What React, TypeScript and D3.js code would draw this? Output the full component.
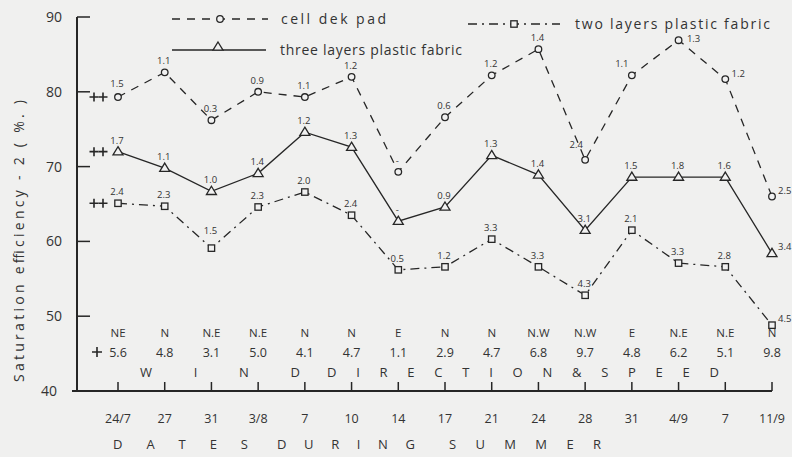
import React from "react";
import * as d3 from "d3";

const dates = ["24/7", "27", "31", "3/8", "7", "10", "14", "17", "21", "24", "28", "31", "4/9", "7", "11/9"];
const cellDek = [79.3, 82.6, 76.2, 80.0, 79.3, 82.0, 69.3, 76.6, 82.2, 85.7, 70.9, 82.2, 86.9, 81.7, 66.0];
const cellDekLabels = ["1.5", "1.1", "0.3", "0.9", "1.1", "1.2", "-", "0.6", "1.2", "1.4", "2.4", "1.1", "1.3", "1.2", "2.5"];
const threeLayers = [72.0, 69.8, 66.7, 69.1, 74.6, 72.6, 62.7, 64.6, 71.5, 68.9, 61.5, 68.6, 68.6, 68.6, 58.4];
const threeLayersLabels = ["1.7", "1.1", "1.0", "1.4", "1.2", "1.3", "-", "0.9", "1.3", "1.4", "3.1", "1.5", "1.8", "1.6", "3.4"];
const twoLayers = [65.1, 64.7, 59.1, 64.6, 66.6, 63.5, 56.2, 56.6, 60.3, 56.6, 52.8, 61.5, 57.1, 56.6, 48.8];
const twoLayersLabels = ["2.4", "2.3", "1.5", "2.3", "2.0", "2.4", "0.5", "1.2", "3.3", "3.3", "4.3", "2.1", "3.3", "2.8", "4.5"];
const windDir = ["NE", "N", "N.E", "N.E", "N", "N", "E", "N", "N", "N.W", "N.W", "E", "N.E", "N.E", "N"];
const windSpeed = ["5.6", "4.8", "3.1", "5.0", "4.1", "4.7", "1.1", "2.9", "4.7", "6.8", "9.7", "4.8", "6.2", "5.1", "9.8"];
const yTicks = [50, 60, 70, 80, 90];
const legendNames = ["cell dek pad", "three layers plastic fabric", "two layers plastic fabric"];
const windTitleWords = ["WIND", "DIRECTION&SPEED"];
const dateTitleWords = ["DATES", "DURING", "SUMMER"];

// label placement nudges (style only): [seriesIndex, pointIndex, dx, dy]
const nudges: [number, number, number, number][] = [
  [0, 0, 0, -2],
  [0, 10, -8, -4],
  [0, 11, -9, 0],
  [0, 12, 16, 10],
  [0, 13, 14, 6],
  [2, 2, 0, -6],
];
// word spans (style only): [x, textLength]
const windSpans: [number, number][] = [[140, 160], [327, 392]];
const dateSpans: [number, number][] = [[113, 135], [277, 138], [449, 152]];

const W = 792, H = 457;
const INK = "#262626";
const FONT = "'Open Sans', 'DejaVu Sans', sans-serif";

const x = d3.scalePoint<number>().domain(dates.map((_, i) => i)).range([118, 772]).padding(0);
const y = d3.scaleLinear().domain([40, 90]).range([391, 17]);

type Marker = "circle" | "triangle" | "square";

function MarkerShape({ kind, cx, cy }: { kind: Marker; cx: number; cy: number }) {
  const common = { fill: "#f1f1f1", stroke: INK, strokeWidth: 1.3 };
  if (kind === "circle") return <circle cx={cx} cy={cy} r={3.3} {...common} />;
  if (kind === "square") return <rect x={cx - 3.2} y={cy - 3.2} width={6.4} height={6.4} {...common} />;
  const s = 5;
  return <path d={`M${cx},${cy - s} L${cx + s},${cy + 3.2} L${cx - s},${cy + 3.2} Z`} {...common} />;
}

function Cross({ cx, cy, s = 5 }: { cx: number; cy: number; s?: number }) {
  return (
    <path d={`M${cx - s},${cy} H${cx + s} M${cx},${cy - s} V${cy + s}`} stroke={INK} strokeWidth={1.6} />
  );
}

const series = [
  { values: cellDek, labels: cellDekLabels, marker: "circle" as Marker, dash: "8,7" },
  { values: threeLayers, labels: threeLayersLabels, marker: "triangle" as Marker, dash: "" },
  { values: twoLayers, labels: twoLayersLabels, marker: "square" as Marker, dash: "9,5,2,5" },
];

export default function App() {
  const line = d3
    .line<number>()
    .x((_, i) => x(i) as number)
    .y((v) => y(v));

  const axisX0 = 77;
  const axisY = y(40);

  const nudge = (si: number, i: number) => {
    const n = nudges.find((d) => d[0] === si && d[1] === i);
    return n ? [n[2], n[3]] : [0, 0];
  };

  return (
    <div style={{ position: "fixed", left: 0, top: 0 }}>
      <svg width={W} height={H} style={{ display: "block", background: "#f0f0ef" }} fontFamily={FONT}>
        <rect width={W} height={H} fill="#f0f0ef" />
        {/* Y axis */}
        <line x1={axisX0} y1={y(90)} x2={axisX0} y2={axisY} stroke={INK} strokeWidth={2} />
        {yTicks.map((t) => (
          <g key={t}>
            <line x1={axisX0} x2={axisX0 + 13} y1={y(t)} y2={y(t)} stroke={INK} strokeWidth={1.5} />
            <text x={62} y={y(t) + 5} textAnchor="end" fontSize={14} fill="#333">
              {t}
            </text>
          </g>
        ))}
        <text x={57} y={y(40) + 5} textAnchor="end" fontSize={14} fill="#333">
          40
        </text>
        {/* X axis */}
        <line x1={axisX0 - 5} y1={axisY} x2={x(dates.length - 1)} y2={axisY} stroke={INK} strokeWidth={2} />
        {dates.map((d, i) => (
          <g key={i}>
            <line x1={x(i)} x2={x(i)} y1={axisY} y2={axisY - 9} stroke={INK} strokeWidth={1.5} />
            <text x={x(i)} y={423} textAnchor="middle" fontSize={12.5} fill="#333">
              {d}
            </text>
            <text x={x(i)} y={337} textAnchor="middle" fontSize={11.5} fill="#333">
              {windDir[i]}
            </text>
            <text x={x(i) as number} y={357} textAnchor="middle" fontSize={12.5} fill="#333">
              {windSpeed[i]}
            </text>
          </g>
        ))}
        <Cross cx={97} cy={352} s={5} />
        {windTitleWords.map((w, i) => (
          <text key={w} x={windSpans[i][0]} y={377} fontSize={13} fill="#333" textLength={windSpans[i][1]} lengthAdjust="spacing">
            {w}
          </text>
        ))}
        {dateTitleWords.map((w, i) => (
          <text key={w} x={dateSpans[i][0]} y={449} fontSize={13} fill="#333" textLength={dateSpans[i][1]} lengthAdjust="spacing">
            {w}
          </text>
        ))}
        {/* Y label */}
        <text
          transform={`translate(24,${241}) rotate(-90)`}
          x={-141}
          fontSize={14}
          fill="#333"
          textLength={282}
          lengthAdjust="spacing"
        >
          Saturation  efficiency - 2 ( %. )
        </text>

        {/* Series */}
        {series.map((s, si) => (
          <g key={si}>
            <path d={line(s.values) || ""} fill="none" stroke={INK} strokeWidth={1.3} strokeDasharray={s.dash || undefined} />
            {s.values.map((v, i) => (
              <MarkerShape key={i} kind={s.marker} cx={x(i) as number} cy={y(v)} />
            ))}
            {s.labels.map((lab, i) => {
              const last = i === s.values.length - 1;
              const [dx, dy] = nudge(si, i);
              return (
                <text
                  key={i}
                  x={(x(i) as number) + (last ? 6 : -1) + dx}
                  y={y(s.values[i]) - (last ? 3 : 8) + dy}
                  textAnchor={last ? "start" : "middle"}
                  fontSize={9.5}
                  fill="#333"
                >
                  {lab}
                </text>
              );
            })}
            <Cross cx={(x(0) as number) - 24} cy={y(s.values[0])} s={4.5} />
            <Cross cx={(x(0) as number) - 15} cy={y(s.values[0])} s={4.5} />
          </g>
        ))}

        {/* Legend */}
        <line x1={172} x2={268} y1={19} y2={19} stroke={INK} strokeWidth={1.3} strokeDasharray="8,7" />
        <MarkerShape kind="circle" cx={220} cy={19} />
        <text x={281} y={24} fontSize={14} fill="#333" textLength={105} lengthAdjust="spacing">{legendNames[0]}</text>
        <line x1={172} x2={266} y1={50} y2={50} stroke={INK} strokeWidth={1.3} />
        <MarkerShape kind="triangle" cx={218} cy={47} />
        <text x={280} y={55} fontSize={14} fill="#333" textLength={182} lengthAdjust="spacing">{legendNames[1]}</text>
        <line x1={468} x2={560} y1={24} y2={24} stroke={INK} strokeWidth={1.3} strokeDasharray="9,5,2,5" />
        <MarkerShape kind="square" cx={514} cy={24} />
        <text x={575} y={29} fontSize={14} fill="#333" textLength={195} lengthAdjust="spacing">{legendNames[2]}</text>
      </svg>
    </div>
  );
}
